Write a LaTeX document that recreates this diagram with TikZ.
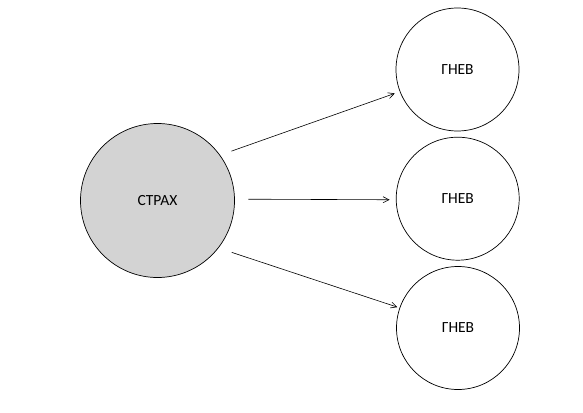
\documentclass[tikz,border=0pt]{standalone}
\usepackage{fontspec}
\setmainfont{Carlito}
\usetikzlibrary{arrows.meta}
\tikzset{
  feeling/.style={circle, draw, line width=0.7pt, outer sep=0pt, inner sep=0pt,
    font=\fontsize{15.5}{18}\selectfont},
  bigfeeling/.style={feeling, fill={rgb,255:red,211;green,211;blue,211}, minimum size=154pt},
  smallfeeling/.style={feeling, minimum size=123pt},
  link/.style={line width=0.6pt, -{Straight Barb[length=6pt,width=6pt]}}
}
\begin{document}
\begin{tikzpicture}[x=1pt,y=-1pt]
      \useasboundingbox (0,0) rectangle (583,412);
      \draw
        (157.5,200.5) node[bigfeeling] (strach){СТРАХ}
        (457.5,69.5) node[smallfeeling] (gnev1){ГНЕВ}
        (457.7,198.7) node[smallfeeling] (gnev2){ГНЕВ}
        (458,328) node[smallfeeling] (gnev3){ГНЕВ};
      \begin{scope}[link]
        \draw[shorten <=12.3pt, shorten >=5.6pt] (strach.36.5) to (gnev1.201.6);
        \draw[shorten <=13.8pt, shorten >=6.5pt] (strach.1) to (gnev2.181);
        \draw[shorten <=14.3pt, shorten >=2.6pt] (strach.-38.9) to (gnev3.161.4);
      \end{scope}
    \end{tikzpicture}
\end{document}
